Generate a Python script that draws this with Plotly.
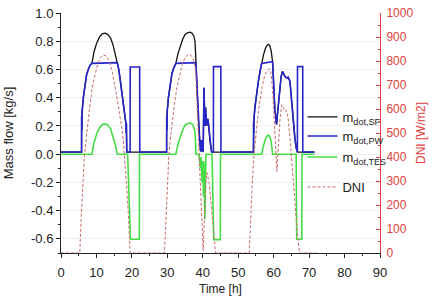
import plotly.graph_objects as go

# ---------------- data ----------------
# Solar field mass flow  m_dot,SF  [kg/s]
sf_t = [0, 5.8, 5.82, 5.9, 5.95, 6.3, 6.8, 7.2, 7.7, 8.2, 8.7,
        9.3, 10.0, 10.8, 11.6, 12.4, 13.2, 14.0, 14.7, 15.3, 15.9,
        16.3, 16.7, 17.1, 17.6, 18.0, 18.3, 18.4, 18.45, 18.55,
        29.8, 29.82, 29.9, 29.95, 30.3, 30.8, 31.3, 31.8, 32.4,
        33.0, 33.6, 34.3, 35.0, 35.7, 36.4, 37.0, 37.5, 37.8, 38.0, 38.05,
        38.5, 38.9, 39.2, 39.4, 39.6, 39.8, 40.0, 40.1, 40.35, 40.6, 40.8, 41.1,
        41.4, 41.6, 42.0, 42.3, 42.5,
        54.3, 54.32, 54.4, 54.45, 54.7, 55.2, 55.7, 56.2, 56.6,
        57.1, 57.6, 58.1, 58.5, 58.9, 59.3, 59.6, 59.7,
        60.0, 60.3, 60.8, 61.2, 61.7, 62.1, 62.5, 63.2, 63.7, 64.1, 64.6,
        65.1, 65.5, 66.0, 66.4, 66.7, 71.5]
sf_v = [0.015, 0.015, 0.27, 0.17, 0.30, 0.40, 0.50, 0.56, 0.60, 0.63, 0.643,
        0.722, 0.782, 0.827, 0.852, 0.857, 0.849, 0.823, 0.772, 0.712, 0.648,
        0.60, 0.53, 0.46, 0.35, 0.27, 0.22, 0.15, 0.22, 0.015,
        0.015, 0.27, 0.17, 0.30, 0.40, 0.50, 0.57, 0.61, 0.643,
        0.712, 0.762, 0.812, 0.848, 0.860, 0.864, 0.857, 0.834, 0.80, 0.70, 0.648,
        0.40, 0.17, 0.065, 0.02, 0.10, 0.02, 0.10, 0.015, 0.47, 0.20, 0.33, 0.20,
        0.25, 0.22, 0.10, 0.05, 0.015,
        0.015, 0.23, 0.15, 0.25, 0.33, 0.44, 0.52, 0.59, 0.643,
        0.70, 0.745, 0.77, 0.778, 0.77, 0.73, 0.67, 0.655,
        0.50, 0.33, 0.21, 0.33, 0.47, 0.55, 0.586, 0.55, 0.54, 0.545, 0.515,
        0.37, 0.23, 0.11, 0.04, 0.015, 0.015]

# Power block mass flow  m_dot,PW  [kg/s]
pw_t = [0, 5.8, 5.82, 5.9, 5.95, 6.3, 6.8, 7.2, 7.7, 8.2, 8.7, 15.9,
        16.3, 16.7, 17.1, 17.6, 18.0, 18.3, 18.4, 18.45, 18.55,
        19.5, 19.52, 22.2, 22.22,
        29.8, 29.82, 29.9, 29.95, 30.3, 30.8, 31.3, 31.8, 32.4, 38.05,
        38.5, 38.9, 39.2, 39.4, 39.6, 39.8, 40.0, 40.1, 40.35, 40.6, 40.8, 41.1,
        41.4, 41.6, 42.0, 42.3, 42.5,
        43.0, 43.02, 45.1, 45.12,
        54.3, 54.32, 54.4, 54.45, 54.7, 55.2, 55.7, 56.2, 56.6, 59.7,
        60.0, 60.3, 60.8, 61.2, 61.7, 62.1, 62.5, 63.2, 63.7, 64.1, 64.6,
        65.1, 65.5, 66.0, 66.4, 66.7, 66.72, 68.2, 68.22, 71.5]
pw_v = [0.015, 0.015, 0.27, 0.17, 0.30, 0.40, 0.50, 0.56, 0.60, 0.63, 0.643, 0.648,
        0.60, 0.53, 0.46, 0.35, 0.27, 0.22, 0.15, 0.22, 0.015,
        0.015, 0.617, 0.617, 0.015,
        0.015, 0.27, 0.17, 0.30, 0.40, 0.50, 0.57, 0.61, 0.643, 0.648,
        0.40, 0.17, 0.065, 0.02, 0.10, 0.02, 0.10, 0.015, 0.47, 0.20, 0.33, 0.20,
        0.25, 0.22, 0.10, 0.05, 0.015,
        0.015, 0.62, 0.62, 0.015,
        0.015, 0.23, 0.15, 0.25, 0.33, 0.44, 0.52, 0.59, 0.643, 0.655,
        0.50, 0.33, 0.21, 0.33, 0.47, 0.55, 0.586, 0.55, 0.54, 0.545, 0.515,
        0.37, 0.23, 0.11, 0.04, 0.015, 0.62, 0.62, 0.015, 0.015]

# Storage mass flow  m_dot,TES  [kg/s]
tes_t = [0, 8.7, 9.3, 10.0, 10.8, 11.6, 12.4, 13.2, 14.0, 14.7, 15.3, 15.9,
         18.8, 19.6, 22.1, 22.15,
         32.4, 33.0, 33.6, 34.3, 35.0, 35.7, 36.4, 37.0, 37.5, 37.8, 38.0, 38.05,
         38.9, 39.3, 39.5, 39.8, 40.0, 40.2, 40.3, 40.4, 40.6, 40.9,
         42.6, 43.1, 44.95, 45.0,
         56.6, 57.1, 57.6, 58.1, 58.5, 58.9, 59.3, 59.6, 59.7,
         66.35, 66.5, 67.95, 68.0, 71.5]
tes_v = [0.0, 0.0, 0.079, 0.139, 0.184, 0.209, 0.214, 0.206, 0.18, 0.129, 0.069, 0.0,
         0.0, -0.603, -0.603, 0.0,
         0.0, 0.069, 0.119, 0.169, 0.205, 0.217, 0.221, 0.214, 0.191, 0.157, 0.057, 0.0,
         0.0, -0.10, -0.02, -0.20, -0.05, -0.30, -0.05, -0.35, -0.46, 0.0,
         0.0, -0.605, -0.605, 0.0,
         0.0, 0.057, 0.102, 0.127, 0.135, 0.127, 0.087, 0.027, 0.0,
         0.0, -0.603, -0.603, 0.0, 0.0]

# Direct normal irradiance  DNI  [W/m2]
dni_t = [0, 5.3, 5.7, 6.2, 6.6, 7.05, 7.6, 8.2, 8.8, 9.5, 10.3, 11.1, 12.0, 12.8,
         13.6, 14.4, 15.2, 16.0, 16.6, 17.1, 17.6, 18.2, 18.7, 19.1, 19.5,
         29.2, 29.6, 30.1, 30.4, 30.8, 31.4, 32.0, 32.7, 33.4, 34.2, 35.0, 36.0,
         36.8, 37.5, 38.0, 38.4, 38.8, 39.3, 39.8, 40.1, 40.5, 40.9, 41.2, 41.8,
         42.4, 43.0, 43.6,
         53.1, 53.5, 54.0, 54.4, 54.8, 55.4, 56.0, 56.7, 57.4, 58.1, 58.8, 59.3,
         59.8, 60.2, 60.6, 60.9, 61.3, 61.8, 62.3, 62.8, 63.2, 63.6, 64.1, 64.6,
         65.1, 65.6, 66.1, 66.7, 67.3, 72.0]
dni_v = [0, 0, 150, 300, 400, 470, 550, 620, 690, 740, 785, 815, 825, 820,
         800, 760, 700, 630, 570, 530, 470, 360, 240, 130, 0,
         0, 150, 300, 400, 470, 550, 620, 690, 740, 785, 815, 828,
         822, 800, 760, 620, 440, 250, 90, 10, 160, 310, 335, 290,
         200, 100, 0,
         0, 150, 300, 400, 470, 550, 620, 690, 735, 760, 768, 745,
         660, 540, 420, 340, 440, 560, 618, 605, 590, 595, 560, 480,
         380, 280, 180, 80, 0, 0]

x_ticks = [0, 10, 20, 30, 40, 50, 60, 70, 80, 90]
y_ticks = [-0.6, -0.4, -0.2, 0.0, 0.2, 0.4, 0.6, 0.8, 1.0]
y_ticktext = ["-0.6", "-0.4", "-0.2", "0.0", "0.2", "0.4", "0.6", "0.8", "1.0"]
y2_ticks = [0, 100, 200, 300, 400, 500, 600, 700, 800, 900, 1000]

# ---------------- figure ----------------
RED = "#e04040"
FONT = "Liberation Sans, Arial, sans-serif"

fig = go.Figure()
fig.add_trace(go.Scatter(x=sf_t, y=sf_v, mode="lines", name="m<sub>dot,SF</sub>",
                         line=dict(color="#111111", width=1.3), legend="legend"))
fig.add_trace(go.Scatter(x=pw_t, y=pw_v, mode="lines", name="m<sub>dot,PW</sub>",
                         line=dict(color="#2626c8", width=1.6), legend="legend2"))
fig.add_trace(go.Scatter(x=tes_t, y=tes_v, mode="lines", name="m<sub>dot,TES</sub>",
                         line=dict(color="#44dd44", width=1.6), legend="legend3"))
fig.add_trace(go.Scatter(x=dni_t, y=dni_v, mode="lines", name="DNI", yaxis="y2",
                         line=dict(color="#cc6a6a", width=1, dash="3px,2px"),
                         legend="legend4"))

leg_common = dict(bgcolor="rgba(0,0,0,0)", font=dict(family=FONT, size=13, color="#222"),
                  xanchor="left", yanchor="middle", x=0.757, itemwidth=30)

def py2paper(py):
    return (253 - py) / 240.0

fig.update_layout(
    width=433, height=296,
    margin=dict(l=61, r=53, t=13, b=43, autoexpand=False),
    paper_bgcolor="white", plot_bgcolor="white",
    font=dict(family=FONT, size=12, color="#222"),
    showlegend=True,
    legend=dict(leg_common, y=py2paper(117)),
    legend2=dict(leg_common, y=py2paper(136)),
    legend3=dict(leg_common, y=py2paper(157)),
    legend4=dict(leg_common, y=py2paper(187)),
    xaxis=dict(range=[0, 90], tickmode="array", tickvals=x_ticks, automargin=False,
               showline=True, linecolor="#222", linewidth=1,
               ticks="outside", ticklen=4, tickcolor="#222",
               minor=dict(dtick=5, tick0=0, ticks="outside", ticklen=2, tickcolor="#222"),
               showgrid=False, zeroline=False, ticklabelstandoff=3,
               title=dict(text="Time [h]", font=dict(size=12), standoff=8),
               tickfont=dict(size=13)),
    yaxis=dict(range=[-0.7, 1.0], tickmode="array", tickvals=y_ticks, ticktext=y_ticktext,
               automargin=False,
               showline=True, linecolor="#222", linewidth=1,
               ticks="outside", ticklen=4, tickcolor="#222",
               minor=dict(tickmode="linear", dtick=0.1, tick0=0, ticks="outside",
                          ticklen=2, tickcolor="#222", showgrid=False),
               showgrid=True, gridcolor="#eeeeee", gridwidth=1, zeroline=False,
               title=dict(text="Mass flow [kg/s]", font=dict(size=13), standoff=14),
               tickfont=dict(size=13)),
    yaxis2=dict(range=[0, 1000], overlaying="y", side="right", tickmode="array",
                automargin=False,
                tickvals=y2_ticks, showline=True, linecolor=RED, linewidth=1,
                ticks="inside", ticklen=4, tickcolor=RED,
                minor=dict(tickmode="linear", dtick=50, tick0=0, ticks="inside",
                           ticklen=2, tickcolor=RED, showgrid=False),
                showgrid=False, zeroline=False, ticklabelstandoff=3,
                tickfont=dict(size=12, color=RED),
                title=dict(text="DNI [W/m2]", font=dict(size=12, color=RED), standoff=4)),
)

fig.write_html("out.html")
